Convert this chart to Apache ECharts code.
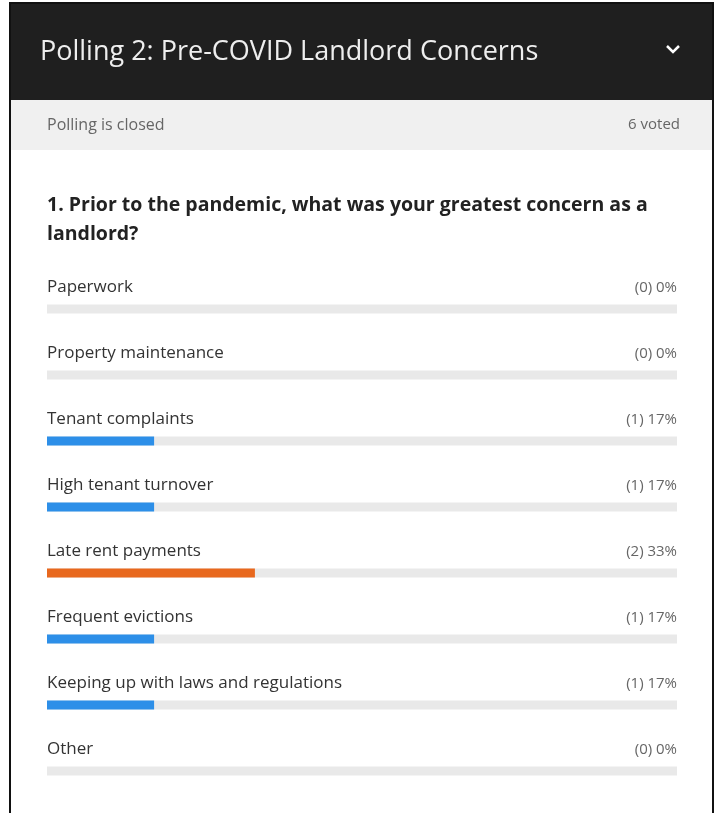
<!DOCTYPE html>
<html>
<head>
<meta charset="utf-8">
<title>Polling 2</title>
<script src="https://cdn.jsdelivr.net/npm/echarts@6/dist/echarts.min.js"></script>
<style>
  html, body { margin: 0; padding: 0; background: #fff; }
  #chart { width: 715px; height: 813px; }
</style>
</head>
<body>
<div id="chart"></div>
<script>
// poll answers, top to bottom
const options = [
  "Paperwork",
  "Property maintenance",
  "Tenant complaints",
  "High tenant turnover",
  "Late rent payments",
  "Frequent evictions",
  "Keeping up with laws and regulations",
  "Other",
];
const votes = [0, 0, 1, 1, 2, 1, 1, 0];
const percents = [0, 0, 17, 17, 33, 17, 17, 0];
const totalVoted = 6;

const FONT = "'Open Sans', 'Noto Sans', sans-serif";
const maxPct = Math.max(...percents);

const chart = echarts.init(document.getElementById("chart"));

const option = {
  animation: false,
  backgroundColor: "#fff",
  textStyle: { fontFamily: FONT },
  graphic: [
    // frame + header
    { type: "rect", shape: { x: 10, y: 3, width: 703, height: 812 }, style: { fill: "#fff", stroke: "#111", lineWidth: 2 }, z: -10 },
    { type: "rect", shape: { x: 11, y: 4, width: 701, height: 96 }, style: { fill: "#1f1f1f" }, z: -9 },
    { type: "rect", shape: { x: 11, y: 100, width: 701, height: 50 }, style: { fill: "#f0f0f0" }, z: -9 },
    {
      type: "text", left: 40, top: 39,
      style: { text: "Polling 2: Pre-COVID Landlord Concerns", fill: "#eeeeee", font: "normal 27px " + FONT },
    },
    {
      type: "polyline",
      shape: { points: [[667, 46], [673, 52], [679, 46]] },
      style: { stroke: "#fff", lineWidth: 2.5, fill: null },
    },
    {
      type: "text", left: 47, top: 117,
      style: { text: "Polling is closed", fill: "#666", font: "normal 16px " + FONT },
    },
    {
      type: "text", right: 35, top: 117,
      style: { text: totalVoted + " voted", fill: "#666", font: "normal 15px " + FONT, align: "right" },
    },
    {
      type: "text", left: 47, top: 191,
      style: {
        text: "1. Prior to the pandemic, what was your greatest concern as a\nlandlord?",
        fill: "#222", font: "bold 19.5px " + FONT, lineHeight: 29,
      },
    },
  ],
  grid: { left: 47, right: 38, top: 276, bottom: 9 },
  xAxis: { type: "value", min: 0, max: 100, show: false },
  yAxis: [
    {
      type: "category",
      data: options,
      inverse: true,
      position: "left",
      axisLine: { show: false },
      axisTick: { show: false },
      axisLabel: {
        inside: true, margin: 0, color: "#333", fontSize: 17, fontFamily: FONT,
        verticalAlign: "bottom", padding: [0, 0, 13, 0],
      },
    },
    {
      type: "category",
      data: votes.map((v, i) => "(" + v + ") " + percents[i] + "%"),
      inverse: true,
      position: "right",
      axisLine: { show: false },
      axisTick: { show: false },
      axisLabel: {
        inside: true, margin: 0, color: "#666", fontSize: 15, fontFamily: FONT,
        verticalAlign: "bottom", padding: [0, 0, 14, 0],
      },
    },
  ],
  series: [
    {
      type: "bar",
      data: percents.map((p) => ({
        value: p,
        itemStyle: { color: p === maxPct ? "#e8681e" : "#2d8fe8" },
      })),
      barWidth: 9,
      showBackground: true,
      backgroundStyle: { color: "#e9e9e9" },
    },
  ],
};

chart.setOption(option);
</script>
</body>
</html>
